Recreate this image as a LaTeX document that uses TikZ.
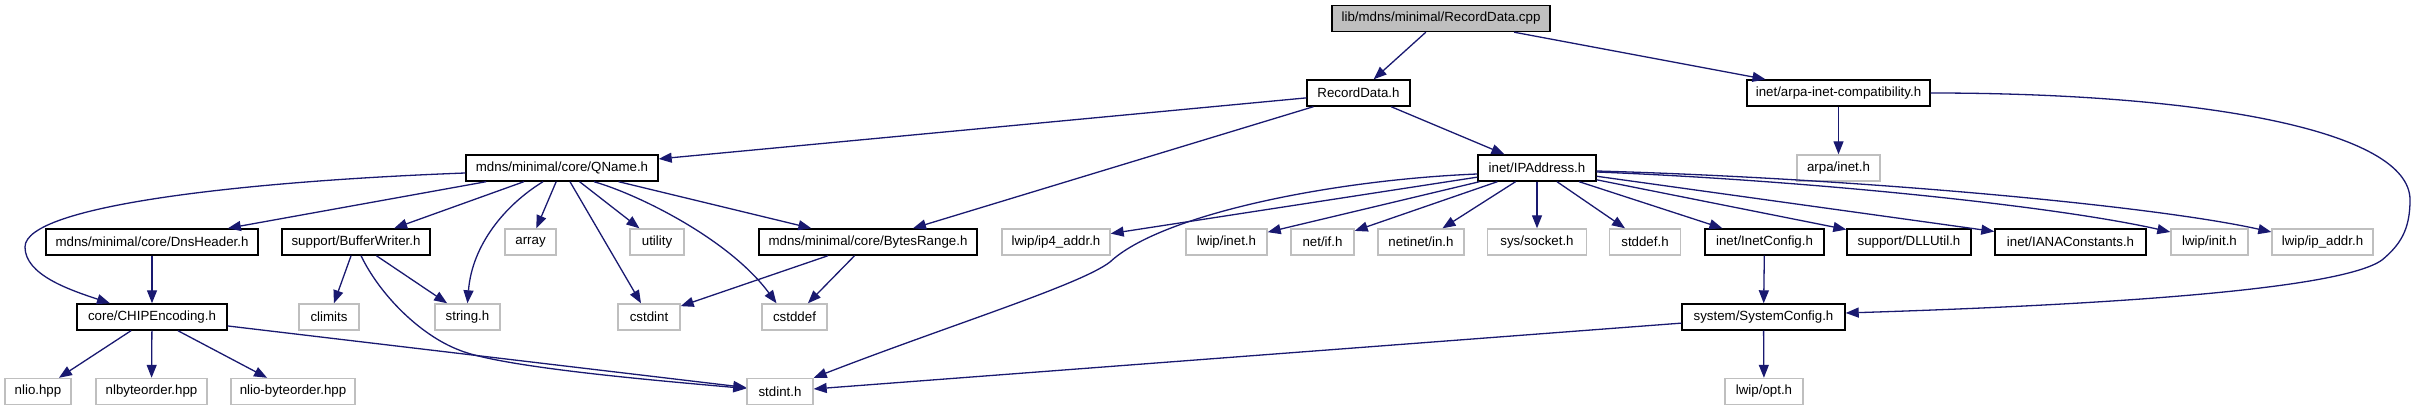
\documentclass[tikz,border=0pt]{standalone}
\usepackage{fontspec}
\setmainfont{Liberation Sans}
\usetikzlibrary{arrows.meta,calc}
\definecolor{edgecol}{HTML}{191970}
\definecolor{greyline}{HTML}{BFBFBF}
\definecolor{greyfill}{HTML}{BFBFBF}
\tikzset{
  fbox/.style={draw=black, line width=1.4pt, rectangle, minimum height=26pt, inner sep=0pt, fill=white, font=\fontsize{13.3}{16}\selectfont},
  sbox/.style={draw=greyline, line width=1.4pt, rectangle, minimum height=26pt, inner sep=0pt, fill=white, font=\fontsize{13.3}{16}\selectfont},
  dep/.style={draw=edgecol, line width=1.3pt, -{Triangle[length=13pt,width=10pt]}}
}
\begin{document}
\begin{tikzpicture}[x=1pt,y=-1pt]
\useasboundingbox (0,0) rectangle (2417,411);
% row 0
\node[fbox, fill=greyfill, minimum width=218pt] (cpp) at (1441,18.5) {lib/mdns/minimal/RecordData.cpp};
% row 1
\node[fbox, minimum width=103pt] (recdata) at (1358.5,93) {RecordData.h};
\node[fbox, minimum width=183pt] (arpacompat) at (1838.5,93) {inet/arpa-inet-compatibility.h};
% row 2
\node[fbox, minimum width=192pt] (qname) at (562,168) {mdns/minimal/core/QName.h};
\node[fbox, minimum width=118pt] (ipaddr) at (1537,168) {inet/IPAddress.h};
\node[sbox, minimum width=83pt] (arpainet) at (1838.5,168) {arpa/inet.h};
% row 3
\node[fbox, minimum width=212pt] (dnsheader) at (152,242) {mdns/minimal/core/DnsHeader.h};
\node[fbox, minimum width=148pt] (bufwriter) at (356,242) {support/BufferWriter.h};
\node[sbox, minimum width=51pt] (array) at (530.5,242) {array};
\node[sbox, minimum width=54pt] (utility) at (657,242) {utility};
\node[fbox, minimum width=218pt] (bytesrange) at (868,242) {mdns/minimal/core/BytesRange.h};
\node[sbox, minimum width=108pt] (ipfouraddr) at (1056,242) {lwip/ip4\_addr.h};
\node[sbox, minimum width=81pt] (lwipinet) at (1226.5,242) {lwip/inet.h};
\node[sbox, minimum width=63pt] (netif) at (1322.5,242) {net/if.h};
\node[sbox, minimum width=86pt] (netinetin) at (1421,242) {netinet/in.h};
\node[sbox, minimum width=99pt] (syssocket) at (1537,242) {sys/socket.h};
\node[sbox, minimum width=71pt] (stddefh) at (1645,242) {stddef.h};
\node[fbox, minimum width=119pt] (inetconfig) at (1764.5,242) {inet/InetConfig.h};
\node[fbox, minimum width=124pt] (dllutil) at (1909,242) {support/DLLUtil.h};
\node[fbox, minimum width=151pt] (iana) at (2070.5,242) {inet/IANAConstants.h};
\node[sbox, minimum width=77pt] (lwipinit) at (2209.5,242) {lwip/init.h};
\node[sbox, minimum width=101pt] (ipaddrh) at (2322.5,242) {lwip/ip\_addr.h};
% row 4
\node[fbox, minimum width=150pt] (chipenc) at (152,317) {core/CHIPEncoding.h};
\node[sbox, minimum width=60pt] (climits) at (329,317) {climits};
\node[sbox, minimum width=65pt] (stringh) at (467.5,317) {string.h};
\node[sbox, minimum width=62pt] (cstdint) at (649,317) {cstdint};
\node[sbox, minimum width=65pt] (cstddef) at (794.5,317) {cstddef};
\node[fbox, minimum width=163pt] (sysconfig) at (1763.5,317) {system/SystemConfig.h};
% row 5
\node[sbox, minimum width=66pt] (nlio) at (38,391.5) {nlio.hpp};
\node[sbox, minimum width=111pt] (nlbyteorder) at (151.5,391.5) {nlbyteorder.hpp};
\node[sbox, minimum width=124pt] (nliobyteorder) at (293,391.5) {nlio-byteorder.hpp};
\node[sbox, minimum width=66pt] (stdint) at (780,391.5) {stdint.h};
\node[sbox, minimum width=78pt] (lwipopt) at (1764,391.5) {lwip/opt.h};

% edges from cpp
\draw[dep] (cpp) -- (recdata);
\draw[dep] (cpp) -- (arpacompat);
% RecordData.h
\draw[dep] (recdata) -- (qname);
\draw[dep] (recdata) -- (bytesrange);
\draw[dep] (recdata) -- (ipaddr);
% arpa compat
\draw[dep] (arpacompat) -- (arpainet);
\draw[dep] (arpacompat.east) .. controls (2200,93) and (2410,130) .. (2410,200)
   .. controls (2410,230) and (2400,245) .. (2382,260)
   .. controls (2340,290) and (2100,305) .. ($(sysconfig.east)+(0,-4)$);
% InetConfig / SystemConfig
\draw[dep] (inetconfig) -- (sysconfig);
\draw[dep] (sysconfig) -- (lwipopt);
\draw[dep] (sysconfig) -- (stdint);
% IPAddress fan
\draw[dep] (ipaddr) -- (ipfouraddr);
\draw[dep] ($(ipaddr.west)+(0,6)$) .. controls (1330,180) and (1160,215) .. (1110,262)
   .. controls (1080,285) and (950,325) .. (stdint.north east);
\draw[dep] (ipaddr) -- (lwipinet);
\draw[dep] (ipaddr) -- (netif);
\draw[dep] (ipaddr) -- (netinetin);
\draw[dep] (ipaddr) -- (syssocket);
\draw[dep] (ipaddr) -- (stddefh);
\draw[dep] (ipaddr) -- (inetconfig);
\draw[dep] (ipaddr) -- (dllutil);
\draw[dep] (ipaddr) -- (iana);
\draw[dep] ($(ipaddr.east)+(0,4)$) .. controls (1800,180) and (2050,205) .. ($(lwipinit.west)+(0,-10)$);
\draw[dep] ($(ipaddr.east)+(0,3)$) .. controls (1850,178) and (2150,205) .. ($(ipaddrh.west)+(0,-10)$);
% QName fan
\draw[dep] ($(qname.west)+(0,5)$) .. controls (250,181) and (25,205) .. (25,247)
   .. controls (25,275) and (70,290) .. ($(chipenc.north)+(-42,0)$);
\draw[dep] (qname) -- (dnsheader);
\draw[dep] (qname) -- (bufwriter);
\draw[dep] ($(qname.south)+(-19,0)$) .. controls (505,205) and (472,245) .. (stringh.north);
\draw[dep] (qname) -- (array);
\draw[dep] (qname) -- (cstdint);
\draw[dep] (qname) -- (utility);
\draw[dep] ($(qname.south)+(32,0)$) .. controls (640,195) and (730,240) .. ($(cstddef.north)+(-18,0)$);
\draw[dep] (qname) -- (bytesrange);
% BytesRange
\draw[dep] (bytesrange) -- (cstdint);
\draw[dep] (bytesrange) -- (cstddef);
% DnsHeader
\draw[dep] (dnsheader) -- (chipenc);
% BufferWriter
\draw[dep] (bufwriter) -- (climits);
\draw[dep] (bufwriter) -- (stringh);
\draw[dep] ($(bufwriter.south)+(5,0)$) .. controls (380,295) and (420,335) .. (459,350)
   .. controls (500,367) and (650,380) .. ($(stdint.west)+(0,-3)$);
% CHIPEncoding
\draw[dep] (chipenc) -- (nlio);
\draw[dep] (chipenc) -- (nlbyteorder);
\draw[dep] (chipenc) -- (nliobyteorder);
\draw[dep] (chipenc) -- (stdint);
\end{tikzpicture}
\end{document}
